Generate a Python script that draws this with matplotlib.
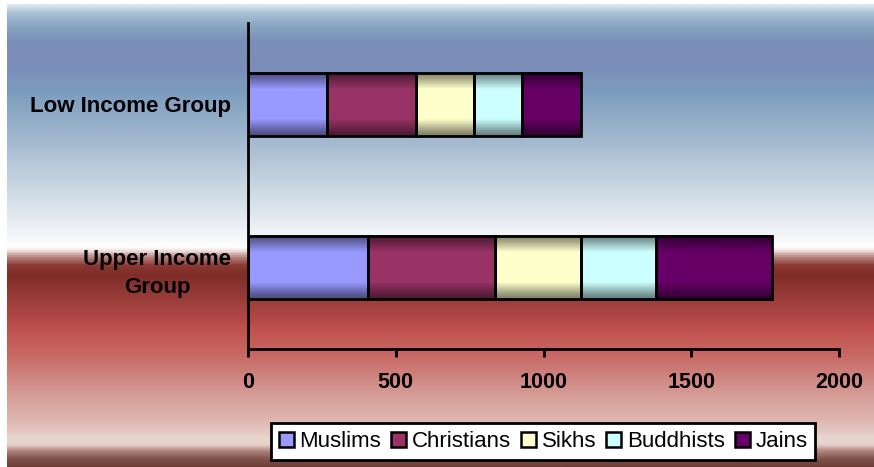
import numpy as np
import matplotlib
matplotlib.use("Agg")
import matplotlib.pyplot as plt
from matplotlib.colors import LinearSegmentedColormap, to_rgb
from matplotlib.patches import Patch

plt.rcParams['font.family'] = ['Liberation Sans', 'DejaVu Sans']

# data
groups = ['Upper Income\nGroup', 'Low Income Group']
religions = ['Muslims', 'Christians', 'Sikhs', 'Buddhists', 'Jains']
upper = [406, 430, 291, 254, 392]
low = [268, 300, 198, 160, 200]
colors = ['#9999ff', '#993366', '#ffffcc', '#ccffff', '#660066']
xticks = [0, 500, 1000, 1500, 2000]

fig = plt.figure(figsize=(8.74, 4.67), dpi=100)
fig.patch.set_facecolor('white')

# background gradient (blue sky top, red band bottom)
stops = [(0, '#dde8f0'), (8, '#a9c0d4'), (21, '#88a5c2'), (36, '#7b90b9'),
         (61, '#7a8db8'), (86, '#7c9cbe'), (126, '#9bb3cb'), (176, '#c4d3e0'),
         (216, '#e6ebf2'), (236, '#f8f9fb'), (243, '#ffffff'), (248, '#e7cfcd'),
         (254, '#b57f7b'), (262, '#8a3732'), (271, '#7f2d28'), (296, '#9a3d39'),
         (326, '#c0504d'), (356, '#c96d69'), (386, '#d39590'), (416, '#dfb5af'),
         (436, '#e8d6d0'), (442, '#e6d2cb'), (448, '#b28680'), (456, '#7f514b'),
         (463, '#6e4038')]
span = stops[-1][0]
bg_cmap = LinearSegmentedColormap.from_list('bg', [(p / span, c) for p, c in stops])
bg = fig.add_axes([7 / 874, 0, 1 - 7 / 874, 463 / 467], zorder=-10)
bg.imshow(np.linspace(0, 1, 500)[:, None], aspect='auto', cmap=bg_cmap,
          extent=(0, 1, 1, 0))
bg.set_axis_off()

ax = fig.add_axes([248 / 874, 118 / 467, 591 / 874, 326 / 467])
ax.patch.set_alpha(0)

ypos = np.arange(len(groups))
h = 0.39
t = np.linspace(0, 1, 80)
shade = 0.5 + 0.5 * np.clip(np.sin(np.pi * t) * 1.35, 0, 1) ** 1.3

for i, vals in enumerate([upper, low]):
    left = 0
    for v, c in zip(vals, colors):
        rgb = np.array(to_rgb(c))
        grad = np.repeat((shade[:, None] * rgb[None, :])[:, None, :], 2, axis=1)
        ax.imshow(grad, aspect='auto', zorder=2, interpolation='bilinear',
                  extent=(left, left + v, ypos[i] - h / 2, ypos[i] + h / 2))
        ax.barh(ypos[i], v, height=h, left=left, facecolor='none',
                edgecolor='black', linewidth=2, zorder=3)
        left += v

ax.set_xlim(0, 2000)
ax.set_ylim(-0.5, 1.5)
ax.set_xticks(xticks)
ax.set_xticklabels([str(x) for x in xticks], fontsize=15.5, fontweight='bold')
ax.set_yticks(ypos)
ax.set_yticklabels(groups, fontsize=16, fontweight='bold', ha='right',
                   multialignment='center', linespacing=1.45)
ax.tick_params(axis='y', length=0, pad=12)
ax.tick_params(axis='x', length=5.5, width=2, pad=11, direction='out')
for s in ['top', 'right']:
    ax.spines[s].set_visible(False)
for s in ['left', 'bottom']:
    ax.spines[s].set_linewidth(2)

handles = [Patch(facecolor=c, edgecolor='black', linewidth=1.8) for c in colors]
leg = fig.legend(handles, religions, loc='center', ncol=5,
                 bbox_to_anchor=(0.6213, 0.0546), fontsize=16,
                 handlelength=0.68, handleheight=0.68, handletextpad=0.25,
                 columnspacing=0.45, borderpad=0.35, borderaxespad=0,
                 fancybox=False, framealpha=1, edgecolor='black')
leg.get_frame().set_linewidth(2)

fig.savefig('out.png', dpi=100)
